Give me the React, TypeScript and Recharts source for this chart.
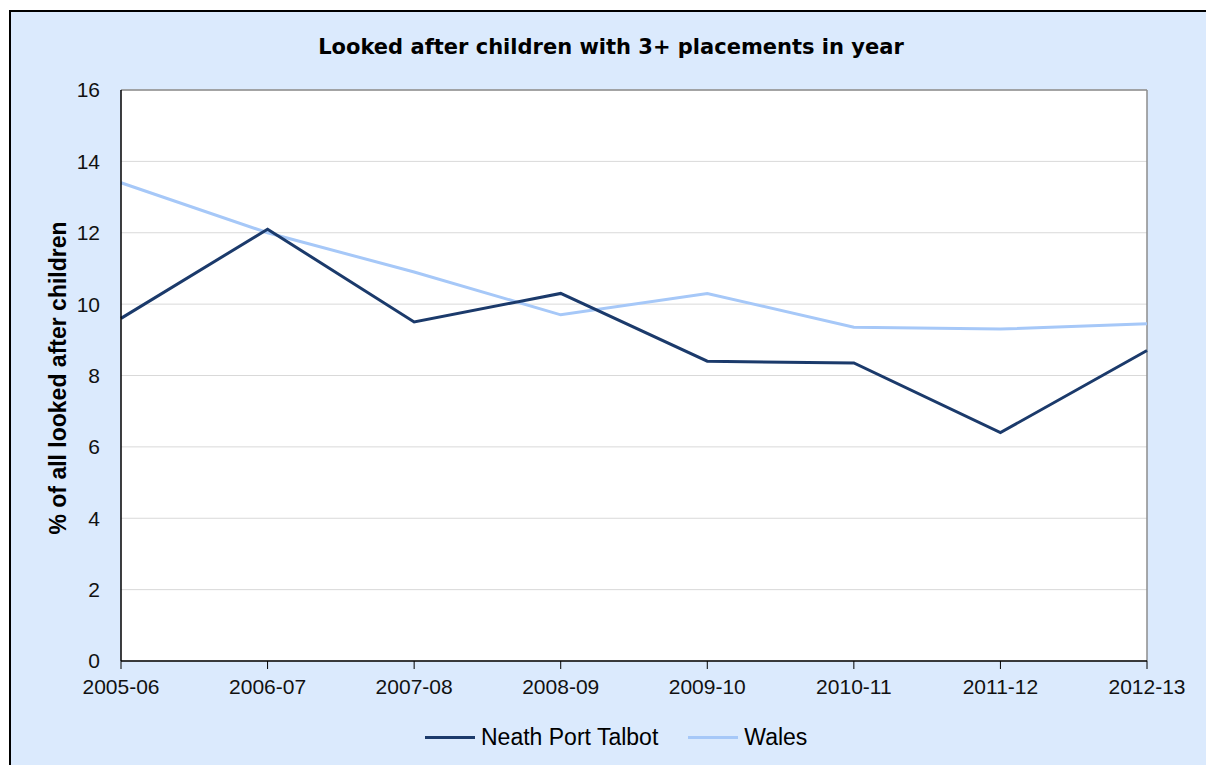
import React from "react";
import {
  LineChart,
  Line,
  CartesianGrid,
  XAxis,
  YAxis,
  ReferenceLine,
} from "recharts";

const years = [
  "2005-06",
  "2006-07",
  "2007-08",
  "2008-09",
  "2009-10",
  "2010-11",
  "2011-12",
  "2012-13",
];
const neathPortTalbot = [9.6, 12.1, 9.5, 10.3, 8.4, 8.35, 6.4, 8.7];
const wales = [13.4, 12.0, 10.9, 9.7, 10.3, 9.35, 9.3, 9.45];
const yTicks = [0, 2, 4, 6, 8, 10, 12, 14, 16];

const data = years.map((year, i) => ({
  year,
  npt: neathPortTalbot[i],
  wales: wales[i],
}));

const series = [
  { key: "npt", name: "Neath Port Talbot", color: "#1B3A6B" },
  { key: "wales", name: "Wales", color: "#A6C8F8" },
];

const FONT = "'Liberation Sans', Arial, sans-serif";

const App: React.FC = () => {
  return (
    <div
      style={{
        position: "absolute",
        left: 0,
        top: 0,
        width: 1206,
        height: 765,
        background: "#fff",
        overflow: "hidden",
      }}
    >
      <div
        style={{
          position: "absolute",
          left: 9,
          top: 10,
          width: 1210,
          height: 770,
          background: "#DBEAFD",
          border: "2px solid #000",
        }}
      />
      <div
        style={{
          position: "absolute",
          left: 0,
          top: 34,
          width: 1222,
          textAlign: "center",
          fontFamily: "'DejaVu Sans', Verdana, sans-serif",
          fontWeight: "bold",
          fontSize: 21,
          lineHeight: "26px",
          color: "#000",
        }}
      >
        Looked after children with 3+ placements in year
      </div>
      <div
        style={{
          position: "absolute",
          left: 58,
          top: 378,
          transform: "translate(-50%, -50%) rotate(-90deg)",
          whiteSpace: "nowrap",
          fontFamily: FONT,
          fontWeight: "bold",
          fontSize: 23,
          color: "#000",
        }}
      >
        % of all looked after children
      </div>
      <div style={{ position: "absolute", left: 0, top: 0 }}>
        <LineChart
          width={1206}
          height={765}
          data={data}
          margin={{ top: 90, right: 59, bottom: 74, left: 0 }}
        >
          <CartesianGrid vertical={false} stroke="#D9D9D9" fill="#fff" />
          <XAxis
            dataKey="year"
            scale="point"
            height={30}
            padding={{ left: 0, right: 0 }}
            axisLine={{ stroke: "#000", strokeWidth: 1.5 }}
            tickLine={{ stroke: "#000" }}
            tickSize={8}
            tickMargin={10}
            tick={{ fill: "#111", fontSize: 21, fontFamily: FONT }}
            interval={0}
          />
          <YAxis
            width={121}
            domain={[0, 16]}
            ticks={yTicks}
            interval={0}
            axisLine={{ stroke: "#000", strokeWidth: 1.5 }}
            tickLine={false}
            tickSize={0}
            tickMargin={21}
            tick={{ fill: "#111", fontSize: 21, fontFamily: FONT }}
          />
          <ReferenceLine y={16} stroke="#8C8C8C" strokeWidth={1.5} />
          <ReferenceLine x="2012-13" stroke="#8C8C8C" strokeWidth={1.5} />
          {[...series].reverse().map((s) => (
            <Line
              key={s.key}
              name={s.name}
              dataKey={s.key}
              type="linear"
              stroke={s.color}
              strokeWidth={3}
              dot={false}
              activeDot={false}
              isAnimationActive={false}
            />
          ))}
        </LineChart>
      </div>
      <div
        style={{
          position: "absolute",
          left: 425,
          top: 723,
          display: "flex",
          alignItems: "center",
          fontFamily: FONT,
          fontSize: 23,
          lineHeight: "28px",
          color: "#000",
        }}
      >
        {series.map((s) => (
          <div key={s.key} style={{ display: "flex", alignItems: "center", marginRight: 30 }}>
            <span
              style={{
                display: "inline-block",
                width: 50,
                height: 3,
                background: s.color,
                marginRight: 6,
              }}
            />
            <span>{s.name}</span>
          </div>
        ))}
      </div>
    </div>
  );
};

export default App;
